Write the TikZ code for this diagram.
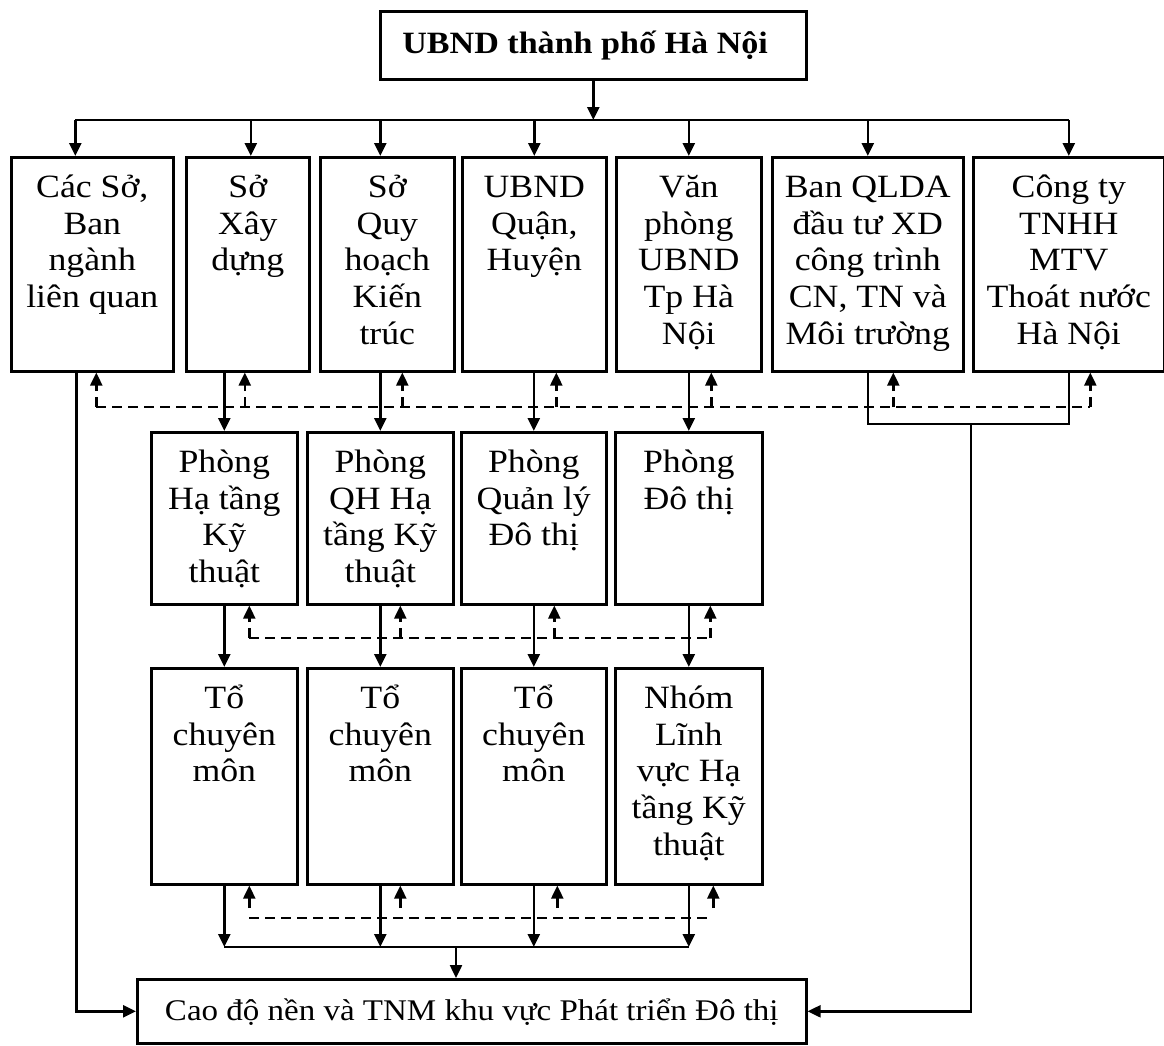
\documentclass[tikz,border=0pt]{standalone}
\usepackage{fontspec}
\setmainfont{Liberation Serif}[FakeStretch=1.1]
\usetikzlibrary{arrows.meta,calc}
\tikzset{
  orgbox/.style={draw, line width=2.6pt, inner sep=0pt, anchor=north west},
  conn/.style={line width=2.4pt},
  arr/.style={conn, -{Triangle[length=13pt,width=12pt]}},
  dsh/.style={line width=2.4pt, dash pattern=on 10pt off 6pt},
  darr/.style={dsh, -{Triangle[length=13pt,width=12pt]}},
}
% name, x1, y1, x2, y2, text
\newcommand{\orgnode}[6]{%
  \node[orgbox] (#1) at (#2,#3) {\parbox[t][\dimexpr #5pt-#3pt\relax][t]{\dimexpr #4pt-#2pt\relax}{\centering\fontsize{32.5}{36.7}\selectfont\rule{0pt}{40pt}#6\par}};}
\begin{document}
\begin{tikzpicture}[x=1pt,y=-1pt]
\useasboundingbox (0,0) rectangle (1164,1045);
% top
\node[orgbox] (top) at (379,10) {\parbox[t][68pt][t]{426pt}{\raggedright\fontsize{31}{36}\selectfont\hspace*{22pt}\rule{0pt}{42pt}\textbf{UBND thành phố Hà Nội}\par}};
% row 1
\orgnode{b1}{10}{156}{172}{370}{Các Sở,\\Ban\\ngành\\liên quan}
\orgnode{b2}{185}{156}{308}{370}{Sở\\Xây\\dựng}
\orgnode{b3}{319}{156}{453}{370}{Sở\\Quy\\hoạch\\Kiến\\trúc}
\orgnode{b4}{461}{156}{605}{370}{UBND\\Quận,\\Huyện}
\orgnode{b5}{615}{156}{760}{370}{Văn\\phòng\\UBND\\Tp Hà\\Nội}
\orgnode{b6}{771}{156}{962}{370}{Ban QLDA\\đầu tư XD\\công trình\\CN, TN và\\Môi trường}
\orgnode{b7}{972}{156}{1163}{370}{Công ty\\TNHH\\MTV\\Thoát nước\\Hà Nội}
% row 2
\orgnode{p1}{150}{431}{296}{603}{Phòng\\Hạ tầng\\Kỹ\\thuật}
\orgnode{p2}{306}{431}{452}{603}{Phòng\\QH Hạ\\tầng Kỹ\\thuật}
\orgnode{p3}{460}{431}{605}{603}{Phòng\\Quản lý\\Đô thị}
\orgnode{p4}{614}{431}{761}{603}{Phòng\\Đô thị}
% row 3
\orgnode{t1}{150}{667}{296}{883}{Tổ\\chuyên\\môn}
\orgnode{t2}{306}{667}{452}{883}{Tổ\\chuyên\\môn}
\orgnode{t3}{460}{667}{605}{883}{Tổ\\chuyên\\môn}
\orgnode{t4}{614}{667}{761}{883}{Nhóm\\Lĩnh\\vực Hạ\\tầng Kỹ\\thuật}
% bottom
\node[orgbox] (bot) at (136,978) {\parbox[t][64pt][t]{669pt}{\centering\fontsize{30}{36}\selectfont\rule{0pt}{41pt}Cao độ nền và TNM khu vực Phát triển Đô thị\par}};

% ---- top bus
\coordinate (bus) at (592,120);
\draw[arr] (top.south) -- (top.south |- bus);
\coordinate (a1) at ([xshift=-17pt]b1.north);
\coordinate (a2) at ([xshift=3pt]b2.north);
\coordinate (a3) at ([xshift=-7pt]b3.north);
\coordinate (a4) at (b4.north);
\coordinate (a5) at (b5.north);
\coordinate (a6) at (b6.north);
\coordinate (a7) at (b7.north);
\draw[conn] (a1 |- bus) -- (a7 |- bus);
\foreach \i in {1,...,7} \draw[arr] (a\i |- bus) -- (a\i);

% ---- row1 -> row2 solid
\draw[arr] (b2.south -| p1.north) -- (p1.north);
\draw[arr] (b3.south -| p2.north) -- (p2.north);
\draw[arr] (b4.south -| p3.north) -- (p3.north);
\draw[arr] (b5.south -| p4.north) -- (p4.north);

% ---- row1 dashed feedback
\coordinate (d1) at (0,407);
\coordinate (u1) at ([xshift=4pt]b1.south);
\coordinate (u2) at ([xshift=-3pt]b2.south);
\coordinate (u3) at ([xshift=15pt]b3.south);
\coordinate (u4) at ([xshift=22pt]b4.south);
\coordinate (u5) at ([xshift=22.5pt]b5.south);
\coordinate (u6) at ([xshift=25.5pt]b6.south);
\coordinate (u7) at ([xshift=21.5pt]b7.south);
\draw[dsh] (u1 |- d1) -- (u7 |- d1);
\foreach \i in {1,...,7} \draw[darr] (u\i |- d1) -- (u\i);

% ---- box1 to bottom
\draw[arr] ([xshift=-16pt]b1.south) |- (bot.west);

% ---- box6, box7 to bottom
\coordinate (rj) at (971,424);
\draw[conn] (b6.south) |- (rj) -| (b7.south);
\draw[arr] (rj) |- (bot.east);

% ---- row2 -> row3 solid
\foreach \i in {1,...,4} \draw[arr] (p\i.south) -- (t\i.north);

% ---- row2 dashed feedback
\coordinate (d2) at (0,638);
\coordinate (v1) at ([xshift=25pt]p1.south);
\coordinate (v2) at ([xshift=20pt]p2.south);
\coordinate (v3) at ([xshift=20.5pt]p3.south);
\coordinate (v4) at ([xshift=21.5pt]p4.south);
\draw[dsh] (v1 |- d2) -- (v4 |- d2);
\foreach \i in {1,...,4} \draw[darr] (v\i |- d2) -- (v\i);

% ---- row3 -> bottom bus
\coordinate (lb) at (456,947);
\foreach \i in {1,...,4} \draw[arr] (t\i.south) -- (t\i.south |- lb);
\draw[conn] (t1.south |- lb) -- (t4.south |- lb);
\draw[arr] (lb) -- (lb |- bot.north);

% ---- row3 dashed feedback
\coordinate (d3) at (0,918);
\coordinate (e3) at (0,908);
\coordinate (w1) at ([xshift=25pt]t1.south);
\coordinate (w2) at ([xshift=20pt]t2.south);
\coordinate (w3) at ([xshift=23.5pt]t3.south);
\coordinate (w4) at ([xshift=24.5pt]t4.south);
\draw[dsh] (w1 |- d3) -- (w4 |- d3);
\foreach \i in {1,...,4} \draw[arr] (w\i |- e3) -- (w\i);
\end{tikzpicture}
\end{document}
